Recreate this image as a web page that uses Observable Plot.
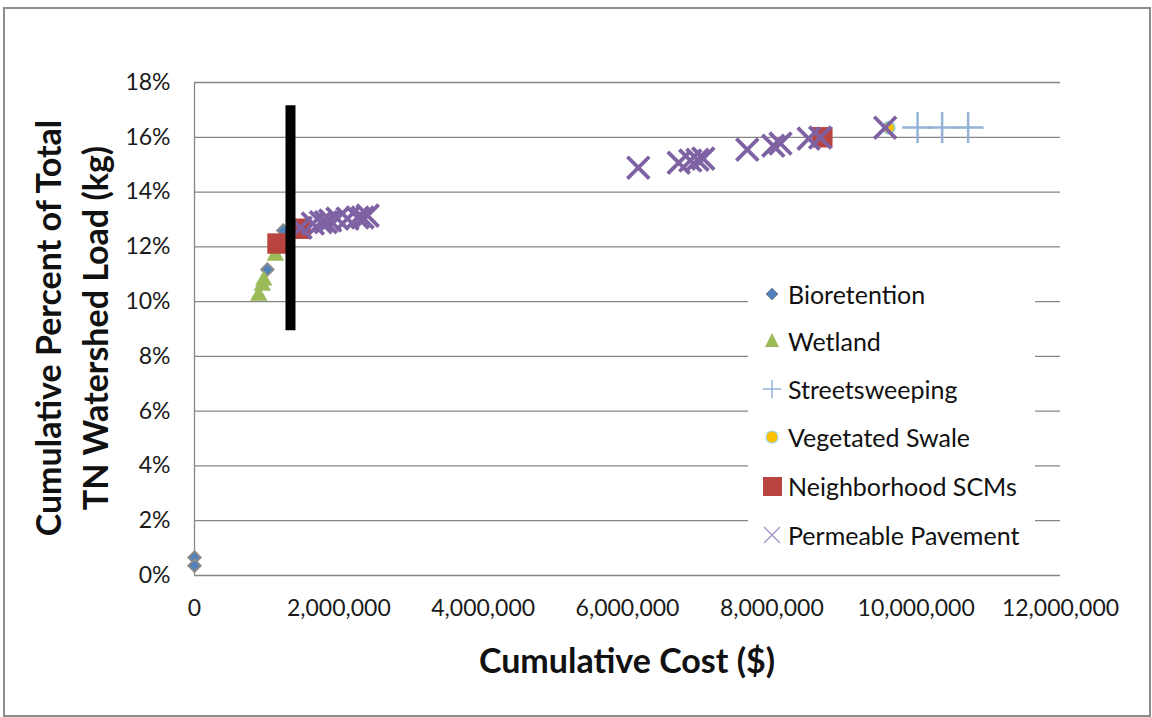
<!DOCTYPE html>
<html><head><meta charset="utf-8">
<script src="https://cdn.jsdelivr.net/npm/d3@7"></script>
<script src="https://cdn.jsdelivr.net/npm/@observablehq/plot@0.6"></script>
<style>
body{margin:0;background:#fff;font-family:Lato,"Open Sans",sans-serif;}
#wrap{position:relative;width:1152px;height:717px;overflow:hidden;background:#fff;}
#frame{position:absolute;left:3px;top:7px;width:1144px;height:706px;border:2px solid #8c8c8c;pointer-events:none;}
#ytitle{position:absolute;left:71px;top:328px;width:560px;transform:translate(-50%,-50%) rotate(-90deg);text-align:center;font-weight:bold;font-size:34px;line-height:47px;color:#111;white-space:nowrap;}
#xtitle{position:absolute;left:627px;top:659px;transform:translate(-50%,-50%);font-weight:bold;font-size:34px;color:#111;white-space:nowrap;}
#legend{position:absolute;left:748px;top:273px;width:287px;height:284px;background:#fff;}
.item{position:absolute;left:0;height:40px;display:flex;align-items:center;font-size:25px;color:#111;white-space:nowrap;}
.item svg{width:40px;height:40px;flex:none;}
</style></head><body>
<div id="wrap"></div>
<script>
// ---- data ----
const xTicks = [0, 2000000, 4000000, 6000000, 8000000, 10000000, 12000000];
const yTicks = [0, 0.02, 0.04, 0.06, 0.08, 0.10, 0.12, 0.14, 0.16, 0.18];

const seriesNames = ["Bioretention", "Wetland", "Streetsweeping", "Vegetated Swale", "Neighborhood SCMs", "Permeable Pavement"];

const bioretentionCost = [0, 0, 1010000, 1230000];
const bioretentionPct  = [0.0066, 0.0036, 0.1117, 0.1260];

const wetlandCost = [890000, 940000, 960000, 1120000];
const wetlandPct  = [0.1022, 0.1058, 0.1077, 0.1168];

const streetCost = [10020000, 10360000, 10720000];
const streetPct  = [0.1636, 0.1636, 0.1636];

const swaleCost = [9620000];
const swalePct  = [0.1635];

const neighborhoodCost = [1150000, 1470000, 8700000];
const neighborhoodPct  = [0.1212, 0.1266, 0.1600];

const permeableCost = [1470000, 1640000, 1750000, 1820000, 1880000, 1980000, 2120000, 2260000, 2330000, 2400000,
                       6150000, 6710000, 6870000, 6970000, 7050000, 7660000, 8020000, 8120000, 8510000, 8670000, 9570000];
const permeablePct  = [0.1270, 0.1285, 0.1290, 0.1290, 0.1296, 0.1303, 0.1303, 0.1307, 0.1307, 0.1314,
                       0.1489, 0.1507, 0.1515, 0.1518, 0.1522, 0.1555, 0.1569, 0.1577, 0.1595, 0.1599, 0.1635];

const markerLineCost = [1330000];
const markerLineLow  = [0.0894];
const markerLineHigh = [0.1715];

// ---- build tables ----
const rows = (cost, pct) => cost.map((c, i) => ({cost: c, pct: pct[i]}));
const bio = rows(bioretentionCost, bioretentionPct);
const wet = rows(wetlandCost, wetlandPct);
const street = rows(streetCost, streetPct);
const swale = rows(swaleCost, swalePct);
const neigh = rows(neighborhoodCost, neighborhoodPct);
const perm = rows(permeableCost, permeablePct);
const vline = markerLineCost.map((c, i) => ({cost: c, lo: markerLineLow[i], hi: markerLineHigh[i]}));

const colors = {
  bio: "#4F81BD", wet: "#9BBB59", street: "#95B3D7", swale: "#FFC000", neigh: "#B8433F", perm: "#7E62A3"
};

const chart = Plot.plot({
  width: 1152,
  height: 717,
  marginLeft: 194,
  marginRight: 92,
  marginTop: 82,
  marginBottom: 142,
  style: {fontFamily: "Lato, 'Open Sans', sans-serif", color: "#1a1a1a", background: "transparent"},
  x: {domain: [0, 12000000]},
  y: {domain: [0, 0.18]},
  marks: [
    Plot.gridY(yTicks, {stroke: "#878787", strokeOpacity: 1, strokeWidth: 1.3}),
    Plot.ruleX([0], {stroke: "#878787", strokeWidth: 1.3}),
    Plot.axisY(yTicks, {tickFormat: d3.format(".0%"), tickSize: 0, tickPadding: 24, fontSize: 23, label: null}),
    Plot.axisX(xTicks, {tickFormat: d3.format(","), tickSize: 0, tickPadding: 24, fontSize: 23, label: null}),
    Plot.dot(bio, {x: "cost", y: "pct", symbol: "diamond2", r: 5.5, fill: colors.bio, stroke: "#8a8a8a", strokeWidth: 2}),
    Plot.dot(wet, {x: "cost", y: "pct", symbol: "triangle", r: 6.5, fill: colors.wet, stroke: "none"}),
    Plot.dot(street, {x: "cost", y: "pct", symbol: "plus", r: 10, stroke: colors.street, strokeWidth: 2.5}),
    Plot.dot(swale, {x: "cost", y: "pct", symbol: "circle", r: 6, fill: colors.swale, stroke: "#7FD0E0", strokeWidth: 1.5}),
    Plot.dot(neigh, {x: "cost", y: "pct", symbol: "square", r: 11.5, fill: colors.neigh, stroke: "none"}),
    Plot.dot(perm, {x: "cost", y: "pct", symbol: "times", r: 10, stroke: colors.perm, strokeWidth: 3.8}),
    Plot.ruleX(vline, {x: "cost", y1: "lo", y2: "hi", stroke: "#000", strokeWidth: 10})
  ]
});

const wrap = document.getElementById("wrap");
wrap.appendChild(chart);

// titles
const yt = document.createElement("div");
yt.id = "ytitle";
yt.innerHTML = "Cumulative Percent of Total<br>TN Watershed Load (kg)";
wrap.appendChild(yt);
const xt = document.createElement("div");
xt.id = "xtitle";
xt.textContent = "Cumulative Cost ($)";
wrap.appendChild(xt);

// legend
const legendSymbols = [
  `<path d="M20,14 L26,20 L20,26 L14,20 Z" fill="${colors.bio}" stroke="#8a8a8a" stroke-width="1"/>`,
  `<path d="M20,12 L27,26 L13,26 Z" fill="${colors.wet}"/>`,
  `<path d="M11,20 H29 M20,11 V29" stroke="${colors.street}" stroke-width="1.5" fill="none"/>`,
  `<circle cx="20" cy="20" r="6" fill="${colors.swale}" stroke="#9fd6e3" stroke-width="1.2"/>`,
  `<rect x="11" y="11" width="19" height="19" fill="${colors.neigh}"/>`,
  `<path d="M12,12 L28,28 M28,12 L12,28" stroke="#A898C8" stroke-width="1.5" fill="none"/>`
];
const legendY = [21, 68, 116, 164, 213, 262];
const lg = document.createElement("div");
lg.id = "legend";
seriesNames.forEach((name, i) => {
  const it = document.createElement("div");
  it.className = "item";
  it.style.top = (legendY[i] - 20) + "px";
  it.style.left = "4px";
  it.innerHTML = `<svg viewBox="0 0 40 40">${legendSymbols[i]}</svg><span style="margin-left:-4px">${name}</span>`;
  lg.appendChild(it);
});
wrap.appendChild(lg);

const fr = document.createElement("div");
fr.id = "frame";
wrap.appendChild(fr);
</script>
</body></html>
